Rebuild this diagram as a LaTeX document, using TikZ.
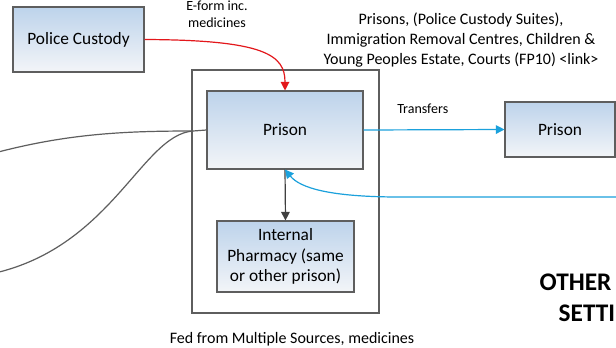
\documentclass[tikz,border=0pt]{standalone}
\usepackage{fontspec}
\setmainfont{Carlito}
\usepackage{tikz}
\usetikzlibrary{arrows.meta, positioning, calc}
\definecolor{boxtop}{HTML}{BDD3EB}
\definecolor{boxbot}{HTML}{F3F5F8}
\definecolor{boxline}{HTML}{5E5E5E}
\definecolor{transblue}{HTML}{1BA1DC}
\definecolor{eformred}{HTML}{E3171B}
\definecolor{feedgrey}{HTML}{404040}

\begin{document}
\begin{tikzpicture}[x=0.75pt, y=-0.75pt,
    box/.style={draw=boxline, line width=0.8pt, top color=boxtop, bottom color=boxbot,
      font=\fontsize{13}{15.5}\selectfont, align=center, inner sep=2pt},
    lbl/.style={font=\fontsize{10.5}{12.75}\selectfont, align=center},
    note/.style={font=\fontsize{12}{15}\selectfont, align=center},
    big/.style={font=\fontsize{19}{22}\selectfont\bfseries, anchor=west},
    tip/.style={-{Triangle[length=6.5pt,width=6.5pt]}, line width=0.9pt}]
  \clip (0,0) rectangle (616,347);
  \fill[white] (0,0) rectangle (616,347);

  \node[box, minimum width=98.25pt, minimum height=48.75pt] (police) at (78.5,39.5) {Police Custody};
  \node[draw=boxline, line width=0.8pt, minimum width=140.25pt, minimum height=182.25pt] (outer) at (285.5,191.5) {};
  \node[box, minimum width=117pt, minimum height=58.5pt] (prison) at (285,130) {Prison};
  \node[box, minimum width=102.75pt, minimum height=53.25pt] (pharm) at (285.5,256.5)
    {Internal\\Pharmacy (same\\or other prison)};
  \node[box, minimum width=82.5pt, minimum height=41.25pt] (other) at (560,129.5) {Prison};

  \node[lbl] (eform) at (217,14) {E-form inc.\\medicines};
  \node[note] (settings) at (461,40) {Prisons, (Police Custody Suites),\\Immigration Removal Centres, Children \&\\Young Peoples Estate, Courts (FP10) <link>};
  \node[note] (fed) at (292,339) {Fed from Multiple Sources, medicines};
  \node[big] (oth) at (535,282) {OTHER};
  \node[big] (sett) at (554,313) {SETTINGS};

  \coordinate (join) at (193,131);
  \coordinate (upper) at (-20,157);
  \coordinate (lower) at (-20,276);
  \coordinate (back) at (630,197);

  % feeds from the left
  \draw[boxline, line width=0.9pt] (upper) .. controls (60,134) and (120,131) .. (join);
  \draw[boxline, line width=0.9pt] (lower) .. controls (110,255) and (140,135) .. (join);
  \draw[boxline, line width=0.9pt] (join) -- (prison.west);

  \draw[tip, eformred] (police.east) .. controls (265,40) and (285,55) .. (prison.north);
  \draw[tip, feedgrey] (prison.south) -- (pharm.north);
  \draw[tip, transblue] (prison.east) -- (other.west) node[lbl, pos=0.42, above=8pt, text=black] {Transfers};
  \draw[tip, transblue] (back) -- (400,197) .. controls (330,197) and (300,188) .. (prison.south);
\end{tikzpicture}
\end{document}
